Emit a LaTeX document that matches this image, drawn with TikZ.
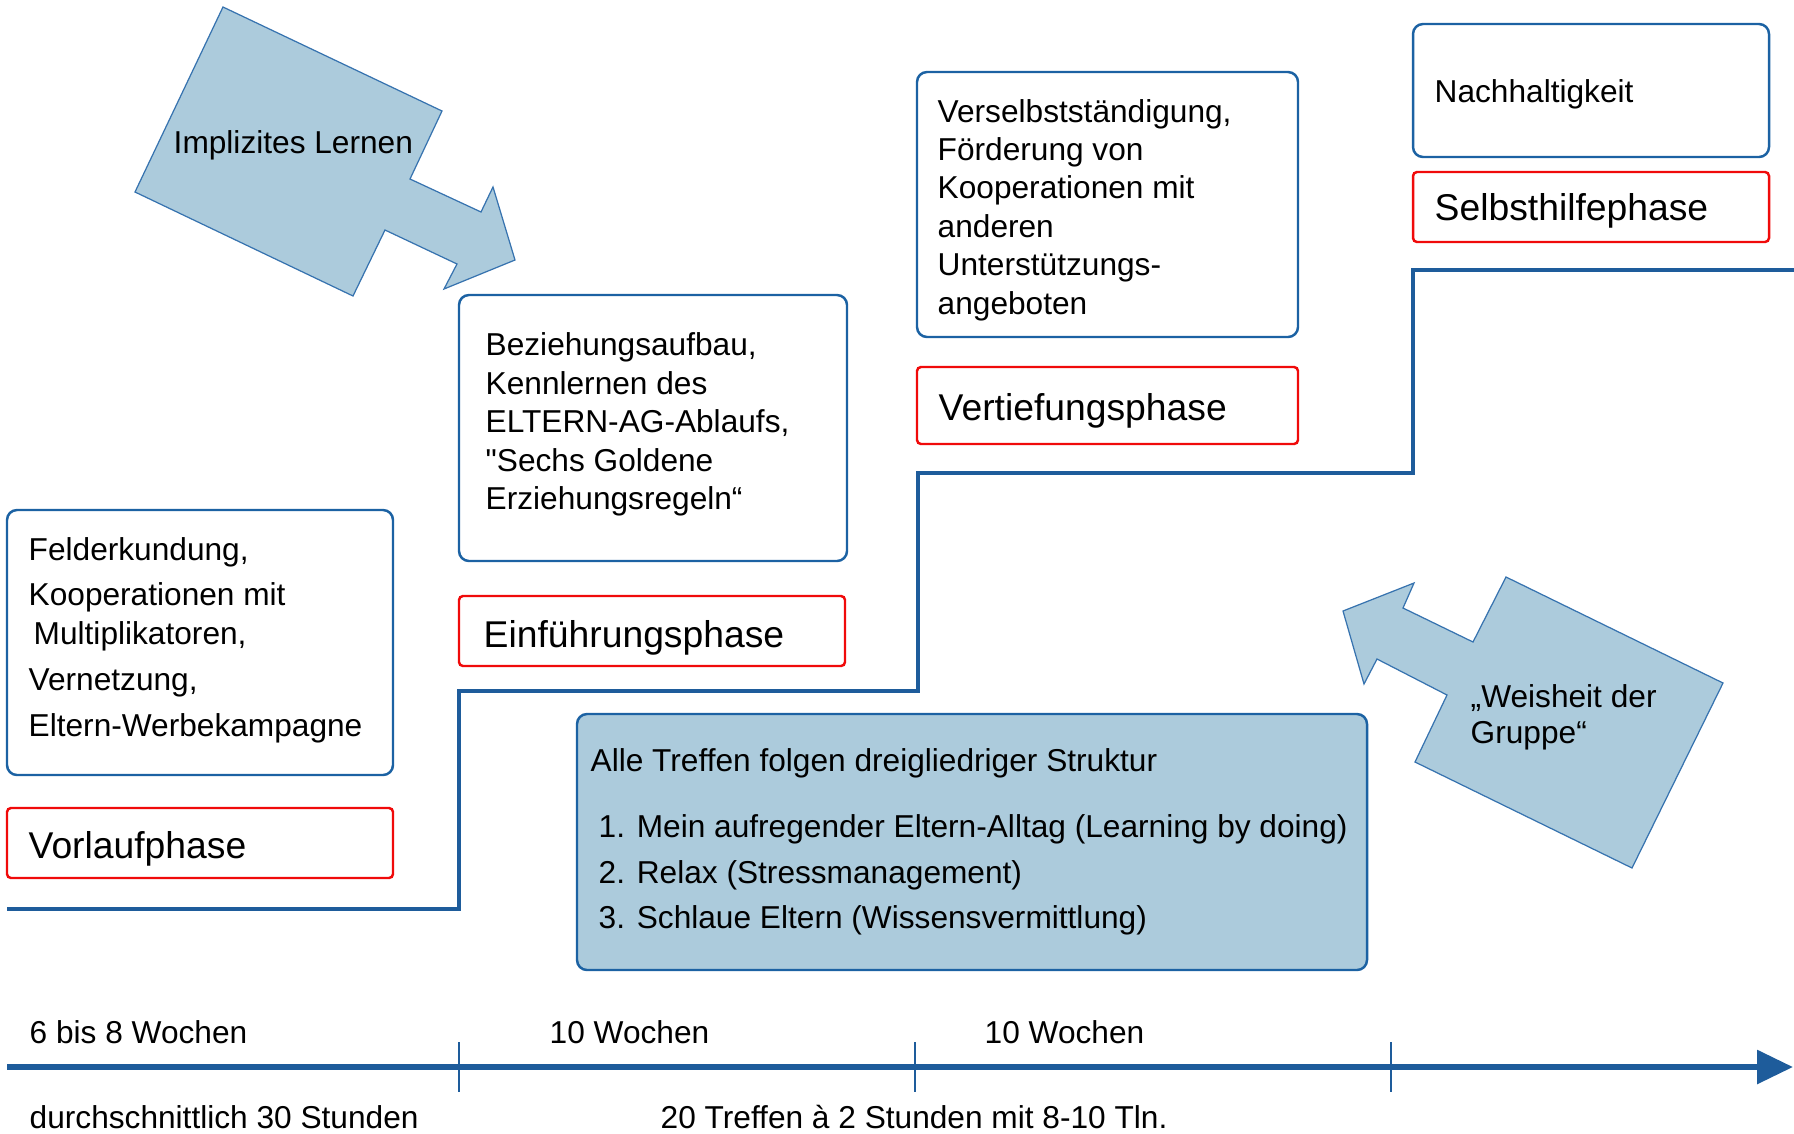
\documentclass[tikz,border=0pt]{standalone}
\usepackage{fontspec}
\setmainfont{Liberation Sans}
\newfontfamily\plainq{Liberation Sans}[Ligatures=TeXOff]
\usetikzlibrary{arrows.meta}
\definecolor{lblue}{RGB}{172,203,220}
\definecolor{dblue}{RGB}{28,98,163}
\definecolor{lineblue}{RGB}{30,92,155}
\definecolor{arrowblue}{RGB}{55,115,175}
\definecolor{pred}{RGB}{240,10,10}
\tikzset{
  bluebox/.style={draw=dblue, line width=0.7pt, rounded corners=0.1cm},
  bigbox/.style={draw=dblue, fill=lblue, line width=0.7pt, rounded corners=0.1cm},
  redbox/.style={draw=pred, line width=0.7pt, rounded corners=0.04cm},
  txt/.style={anchor=base west, inner sep=0pt, font=\fontsize{9}{11}\selectfont},
  phase/.style={anchor=base west, inner sep=0pt, font=\fontsize{10.6}{13}\selectfont},
  bigarrow/.style={fill=lblue, draw=arrowblue, line width=0.35pt, line join=miter},
  stepline/.style={draw=lineblue, line width=1.4pt},
  timeline/.style={draw=lineblue, line width=1.7pt, -{Triangle[length=0.36cm, width=0.33cm]}},
  tickline/.style={draw=lineblue, line width=0.45pt}
}
\begin{document}
\begin{tikzpicture}[x=0.01cm, y=-0.01cm]
\useasboundingbox (0,0) rectangle (1794,1133);

% step line
\draw[stepline] (7,909) -- (459,909) -- (459,691) -- (918,691) -- (918,473) -- (1413,473) -- (1413,270) -- (1794,270);

% Implizites Lernen arrow
\draw[bigarrow] (223,7) -- (442,111) -- (410,179) -- (481,212) -- (493,187) -- (515,260) -- (444,289) -- (457,264) -- (385,230) -- (353,296) -- (135,192) -- cycle;
\node[txt] (impl) at (173,153) {Implizites Lernen};

% Weisheit arrow
\draw[bigarrow] (1506,577) -- (1723,683) -- (1632,868) -- (1415,762) -- (1447,695) -- (1377,659) -- (1364,684) -- (1343,611) -- (1414,583) -- (1403,608) -- (1473,642) -- cycle;
\node[txt] (weis1) at (1470,707) {„Weisheit der};
\node[txt] (weis2) at (1470,743) {Gruppe“};

% Vorlaufphase
\draw[bluebox] (7,510) rectangle (393,775);
\node[txt] (v1) at (28,560) {Felderkundung,};
\node[txt] (v2) at (28,605) {Kooperationen mit};
\node[txt] (v3) at (33,644) {Multiplikatoren,};
\node[txt] (v4) at (28,690) {Vernetzung,};
\node[txt] (v5) at (28,736) {Eltern-Werbekampagne};
\draw[redbox] (7,808) rectangle (393,878);
\node[phase] (vp) at (28,858) {Vorlaufphase};

% Einfuehrungsphase
\draw[bluebox] (459,295) rectangle (847,561);
\node[txt] (e1) at (485,355) {Beziehungsaufbau,};
\node[txt] (e2) at (485,394) {Kennlernen des};
\node[txt] (e3) at (485,432) {ELTERN-AG-Ablaufs,};
\node[txt] (e4) at (485,471) {{\plainq "}Sechs Goldene};
\node[txt] (e5) at (485,509) {Erziehungsregeln“};
\draw[redbox] (459,596) rectangle (845,666);
\node[phase] (ep) at (483,647) {Einführungsphase};

% Vertiefungsphase
\draw[bluebox] (917,72) rectangle (1298,337);
\node[txt] (t1) at (937,122) {Verselbstständigung,};
\node[txt] (t2) at (937,160) {Förderung von};
\node[txt] (t3) at (937,198) {Kooperationen mit};
\node[txt] (t4) at (937,237) {anderen};
\node[txt] (t5) at (937,275) {Unterstützungs-};
\node[txt] (t6) at (937,314) {angeboten};
\draw[redbox] (917,367) rectangle (1298,444);
\node[phase] (tp) at (938,420) {Vertiefungsphase};

% Selbsthilfephase
\draw[bluebox] (1413,24) rectangle (1769,157);
\node[txt] (s1) at (1434,102) {Nachhaltigkeit};
\draw[redbox] (1413,172) rectangle (1769,242);
\node[phase] (sp) at (1434,220) {Selbsthilfephase};

% big box
\draw[bigbox] (577,714) rectangle (1367,970);
\node[txt] (b0) at (590,771) {Alle Treffen folgen dreigliedriger Struktur};
\node[txt] (b1) at (598,837) {1. Mein aufregender Eltern-Alltag (Learning by doing)};
\node[txt] (b2) at (598,883) {2. Relax (Stressmanagement)};
\node[txt] (b3) at (598,928) {3. Schlaue Eltern (Wissensvermittlung)};

% timeline
\coordinate (tlstart) at (7,1067);
\coordinate (tlend) at (1793,1067);
\draw[timeline] (tlstart) -- (tlend);
\draw[tickline] (459,1042) -- (459,1092);
\draw[tickline] (915,1042) -- (915,1092);
\draw[tickline] (1391,1042) -- (1391,1092);
\node[txt] (w1) at (29,1043) {6 bis 8 Wochen};
\node[txt] (w2) at (549,1043) {10 Wochen};
\node[txt] (w3) at (984,1043) {10 Wochen};
\node[txt] (d1) at (29,1128) {durchschnittlich 30 Stunden};
\node[txt] (d2) at (660,1128) {20 Treffen à 2 Stunden mit 8-10 Tln.};
\end{tikzpicture}
\end{document}
